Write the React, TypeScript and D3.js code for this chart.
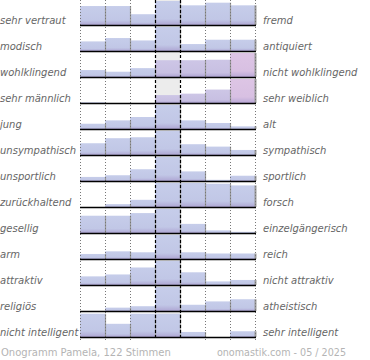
import React, { useEffect, useRef } from 'react';
import * as d3 from 'd3';

// left / right poles of each scale
const leftLabels = [
  'sehr vertraut', 'modisch', 'wohlklingend', 'sehr männlich', 'jung', 'unsympathisch',
  'unsportlich', 'zurückhaltend', 'gesellig', 'arm', 'attraktiv', 'religiös', 'nicht intelligent',
];
const rightLabels = [
  'fremd', 'antiquiert', 'nicht wohlklingend', 'sehr weiblich', 'alt', 'sympathisch',
  'sportlich', 'forsch', 'einzelgängerisch', 'reich', 'nicht attraktiv', 'atheistisch', 'sehr intelligent',
];
// share of votes per step (1..7), relative to the largest step of the row
const votes = [
  [79, 79, 45, 100, 82, 93, 82],
  [40, 54, 44, 100, 29, 47, 47],
  [29, 22, 37, 70, 70, 72, 100],
  [3, 0, 0, 33, 39, 56, 100],
  [22, 36, 50, 100, 36, 25, 11],
  [49, 70, 74, 100, 45, 35, 21],
  [17, 24, 49, 100, 40, 5, 22],
  [0, 12, 30, 100, 100, 97, 90],
  [72, 72, 83, 100, 38, 11, 5],
  [21, 32, 28, 100, 28, 23, 23],
  [36, 44, 73, 100, 53, 15, 21],
  [0, 14, 20, 100, 26, 40, 49],
  [97, 55, 97, 97, 21, 0, 24],
];
// rows whose leaning is drawn in the second tone
const tintedRows = [2, 3];
const steps = [1, 2, 3, 4, 5, 6, 7];
const footerLeft = 'Onogramm Pamela, 122 Stimmen';
const footerRight = 'onomastik.com - 05 / 2025';

const W = 370;
const H = 360;

const draw = (node: SVGSVGElement) => {
  const svg = d3.select(node);
  svg.selectAll('*').remove();

  const x = d3.scaleBand<number>().domain(steps).range([80, 255]).padding(0);
  const row = d3.scaleBand<number>().domain(d3.range(votes.length)).range([-1, 337]);
  const h = d3.scaleLinear().domain([0, 100]).range([0, 24]);
  const base = (i: number) => (row(i) as number) + row.bandwidth();

  const defs = svg.append('defs');
  const grad = (id: string, top: string, mid: string, bot: string) => {
    const g = defs.append('linearGradient').attr('id', id)
      .attr('x1', 0).attr('x2', 0).attr('y1', 0).attr('y2', 1);
    g.append('stop').attr('offset', '0%').attr('stop-color', top);
    g.append('stop').attr('offset', '75%').attr('stop-color', mid);
    g.append('stop').attr('offset', '100%').attr('stop-color', bot);
  };
  grad('blue', '#c6cdea', '#c1c7e6', '#aea6d3');
  grad('lav', '#cdc6e6', '#c8c0e2', '#ada3d2');
  grad('pink', '#ddc5e5', '#d8c0e2', '#b9a8d6');

  // grey centre column
  svg.append('rect')
    .attr('x', x(4) as number).attr('y', 0)
    .attr('width', x.bandwidth()).attr('height', base(votes.length - 1))
    .attr('fill', '#ececec');

  // bars
  votes.forEach((vals, i) => {
    const g = svg.append('g');
    const mx = d3.max(vals) as number;
    g.selectAll('rect')
      .data(vals)
      .enter()
      .append('rect')
      .attr('x', (d, j) => x(steps[j]) as number)
      .attr('y', (d) => base(i) - h(d))
      .attr('width', x.bandwidth())
      .attr('height', (d) => h(d))
      .attr('fill', (d, j) => {
        if (!tintedRows.includes(i) || j < 3) return 'url(#blue)';
        return d === mx ? 'url(#pink)' : 'url(#lav)';
      });
    g.selectAll('line')
      .data(vals)
      .enter()
      .append('line')
      .attr('x1', (d, j) => (x(steps[j]) as number) + x.bandwidth() + 0.5)
      .attr('x2', (d, j) => (x(steps[j]) as number) + x.bandwidth() + 0.5)
      .attr('y1', (d) => base(i) - h(d))
      .attr('y2', base(i))
      .attr('stroke', '#9a9a9a')
      .attr('stroke-width', (d, j) => (j === 6 ? 2 : 1.2));
  });

  // grid lines
  const grid = [1, 2, 3, 6, 7].map((s) => x(s) as number).concat([255]);
  svg.selectAll('.grid')
    .data(grid)
    .enter()
    .append('line')
    .attr('x1', (d) => d + 0.5).attr('x2', (d) => d + 0.5)
    .attr('y1', 0).attr('y2', 340)
    .attr('stroke', '#777')
    .attr('stroke-width', 1)
    .attr('stroke-dasharray', '1,2');
  svg.selectAll('.mid')
    .data([x(4) as number, x(5) as number])
    .enter()
    .append('line')
    .attr('x1', (d) => d + 0.5).attr('x2', (d) => d + 0.5)
    .attr('y1', 0).attr('y2', 340)
    .attr('stroke', '#000')
    .attr('stroke-width', 1.2)
    .attr('stroke-dasharray', '3,2');

  // baselines
  svg.selectAll('.base')
    .data(votes)
    .enter()
    .append('line')
    .attr('x1', 80).attr('x2', 256)
    .attr('y1', (d, i) => base(i) + 0.5).attr('y2', (d, i) => base(i) + 0.5)
    .attr('stroke', '#000')
    .attr('stroke-width', 1.6);

  // labels
  const font = "'DejaVu Sans', Verdana, sans-serif";
  svg.selectAll('.ll')
    .data(leftLabels)
    .enter()
    .append('text')
    .attr('x', 0)
    .attr('y', (d, i) => base(i) - 1.5)
    .attr('font-family', font)
    .attr('font-style', 'italic')
    .attr('font-size', 10)
    .attr('fill', '#666')
    .text((d) => d);
  svg.selectAll('.rl')
    .data(rightLabels)
    .enter()
    .append('text')
    .attr('x', 263)
    .attr('y', (d, i) => base(i) - 1.5)
    .attr('font-family', font)
    .attr('font-style', 'italic')
    .attr('font-size', 10)
    .attr('fill', '#666')
    .text((d) => d);

  svg.append('text')
    .attr('x', 1).attr('y', 356)
    .attr('font-family', font).attr('font-size', 10)
    .attr('fill', '#b4b4b4')
    .text(footerLeft);
  svg.append('text')
    .attr('x', 346).attr('y', 356)
    .attr('text-anchor', 'end')
    .attr('font-family', font).attr('font-size', 9.6)
    .attr('fill', '#b4b4b4')
    .text(footerRight);
};

const App = () => {
  const ref = useRef<SVGSVGElement>(null);
  useEffect(() => {
    if (ref.current) draw(ref.current);
  }, []);

  return (
    <svg
      ref={ref}
      width={W}
      height={H}
      style={{ position: 'absolute', left: 0, top: 0, background: '#fff' }}
    />
  );
};

export default App;
